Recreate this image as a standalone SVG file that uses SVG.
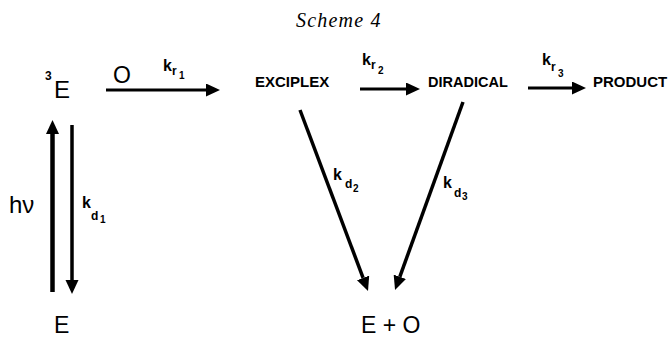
<svg xmlns="http://www.w3.org/2000/svg" width="669" height="339" viewBox="0 0 669 339">
<style>
.t{font-family:"Liberation Sans",Arial,sans-serif;fill:#000}
.big{font-size:23px}
.cap{font-size:15px;font-weight:bold}
.k{font-size:16px;font-weight:bold}
.s1{font-size:12px;font-weight:bold}
.s2{font-size:10px;font-weight:bold}
.ttl{font-family:"Liberation Serif","Times New Roman",serif;font-style:italic;font-size:20px;letter-spacing:1.2px}
.ln{stroke:#000;fill:none;marker-end:url(#ah)}
</style>
<defs>
<marker id="ah" markerUnits="userSpaceOnUse" markerWidth="15" markerHeight="14" refX="0" refY="6.5" orient="auto">
<path d="M0,0 L14,6.5 L0,13 Z" fill="#000"/>
</marker>
</defs>
<rect width="669" height="339" fill="#fff"/>
<text class="ttl" x="296" y="27">Scheme 4</text>
<g id="node-3E">
<text class="t s1" x="45" y="80">3</text>
<text class="t" x="54" y="98" style="font-size:24px">E</text>
</g>
<g id="node-E">
<text class="t big" x="54" y="333">E</text>
</g>
<g id="node-exciplex">
<text class="t cap" x="255" y="87">EXCIPLEX</text>
</g>
<g id="node-diradical">
<text class="t cap" x="428" y="87" style="font-size:14.5px">DIRADICAL</text>
</g>
<g id="node-product">
<text class="t cap" x="593" y="87">PRODUCT</text>
</g>
<g id="node-EO">
<text class="t big" x="361" y="333">E + O</text>
</g>
<g id="connectors">
<line class="ln" x1="106" y1="90" x2="206" y2="90" stroke-width="3"/>
<line class="ln" x1="360" y1="89" x2="406" y2="89" stroke-width="3"/>
<line class="ln" x1="528" y1="88" x2="572" y2="88" stroke-width="3"/>
<line class="ln" x1="52.5" y1="292" x2="52.5" y2="134" stroke-width="4.5"/>
<line class="ln" x1="72" y1="125" x2="72" y2="280" stroke-width="3.5"/>
<line class="ln" x1="300" y1="110" x2="363.1" y2="277.9" stroke-width="3.5"/>
<line class="ln" x1="463" y1="102" x2="399.8" y2="276.8" stroke-width="3.5"/>
<text class="t big" x="113" y="83">O</text>
<text class="t k" x="163" y="71">k</text><text class="t s1" x="172" y="75">r</text><text class="t s2" x="179" y="79">1</text>
<text class="t k" x="362" y="65">k</text><text class="t s1" x="371" y="69">r</text><text class="t s2" x="378" y="74">2</text>
<text class="t k" x="542" y="65">k</text><text class="t s1" x="551" y="71">r</text><text class="t s2" x="558" y="77">3</text>
<text class="t" x="9" y="213" style="font-size:24px">hν</text>
<text class="t k" x="82" y="208">k</text><text class="t s1" x="91" y="220">d</text><text class="t s2" x="100" y="223">1</text>
<text class="t k" x="333" y="180">k</text><text class="t s1" x="345" y="188">d</text><text class="t s2" x="353" y="192">2</text>
<text class="t k" x="443" y="188">k</text><text class="t s1" x="454" y="197">d</text><text class="t s2" x="462" y="200">3</text>
</g>
</svg>
